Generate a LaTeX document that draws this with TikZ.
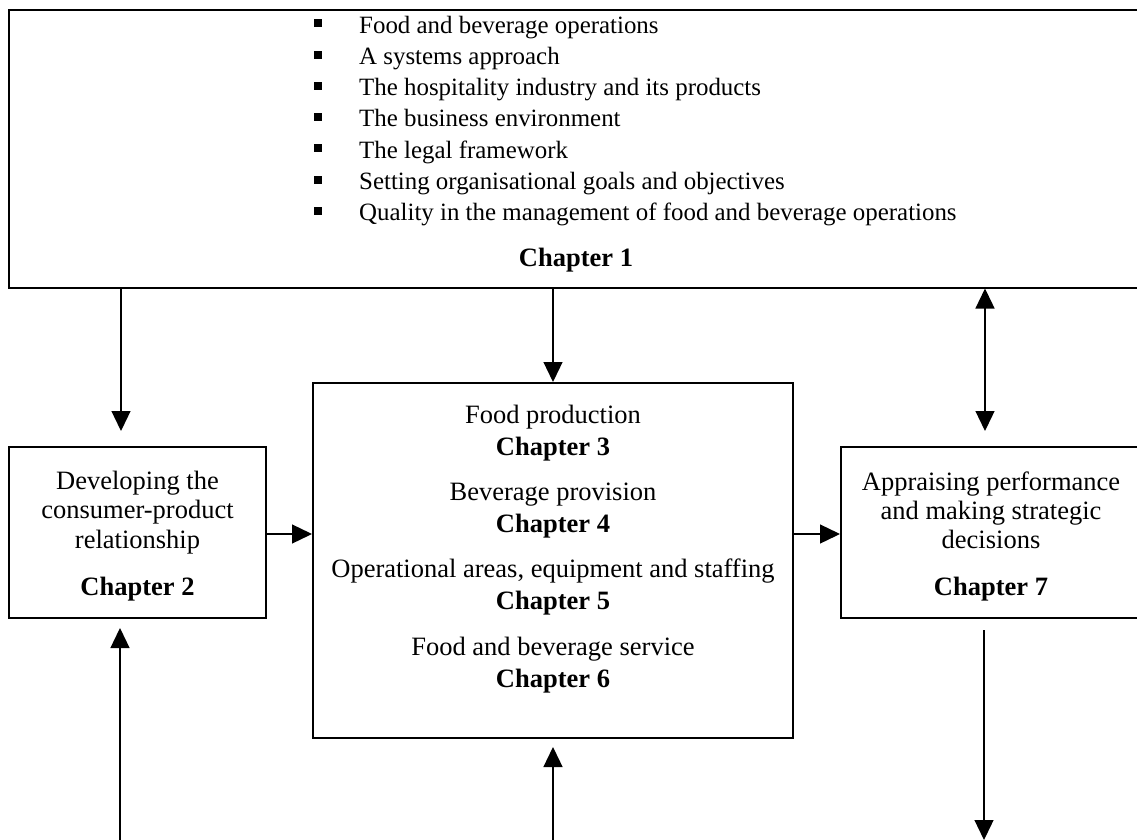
\documentclass[tikz,border=0pt]{standalone}
\usepackage{fontspec}
\setmainfont{Liberation Serif}
\usetikzlibrary{arrows.meta}
\tikzset{
  box/.style={draw, line width=2pt, inner sep=0pt},
  arr/.style={line width=1.3pt, -{Triangle[length=20pt,width=19pt]}},
  darr/.style={line width=1.3pt, {Triangle[length=20pt,width=19pt]}-{Triangle[length=20pt,width=19pt]}},
  txt/.style={anchor=base, inner sep=0pt, font=\fontsize{26.5}{32}\selectfont},
  btxt/.style={txt, font=\fontsize{26.5}{32}\selectfont\bfseries},
  ltxt/.style={anchor=base west, inner sep=0pt, font=\fontsize{24.9}{31}\selectfont},
  bullet/.style={fill=black, inner sep=0pt, minimum width=8pt, minimum height=8pt}
}
\begin{document}
\begin{tikzpicture}[x=1pt,y=-1pt]
\useasboundingbox (0,0) rectangle (1137,840);
% boxes
\node[box, minimum width=1141pt, minimum height=277.5pt] (c1) at (579.5,148.75) {};
\node[box, minimum width=257pt, minimum height=171pt] (ch2) at (137.5,532.5) {};
\node[box, minimum width=480pt, minimum height=355pt] (mid) at (553,560.5) {};
\node[box, minimum width=309pt, minimum height=171pt] (ch7) at (995.5,532.5) {};
% chapter 1 list
\foreach \t [count=\i from 0] in {Food and beverage operations, A systems approach, The hospitality industry and its products, The business environment, The legal framework, Setting organisational goals and objectives, Quality in the management of food and beverage operations}{
  \node[bullet] (b\i) at (317.5,23.5+31.2*\i) {};
  \node[ltxt] (l\i) at (359,33.3+31.2*\i) {\t};
}
\node[btxt] (t1) at (576,266.5) {Chapter 1};
% chapter 2
\node[txt] (t2a) at (137.5,489) {Developing the};
\node[txt] (t2b) at (137.5,518.5) {consumer-product};
\node[txt] (t2c) at (137.5,548) {relationship};
\node[btxt] (t2d) at (137.5,595) {Chapter 2};
% middle
\node[txt] (m1) at (553,423) {Food production};
\node[btxt] (m2) at (553,455) {Chapter 3};
\node[txt] (m3) at (553,500) {Beverage provision};
\node[btxt] (m4) at (553,532) {Chapter 4};
\node[txt] (m5) at (553,577) {Operational areas, equipment and staffing};
\node[btxt] (m6) at (553,609) {Chapter 5};
\node[txt] (m7) at (553,655) {Food and beverage service};
\node[btxt] (m8) at (553,687) {Chapter 6};
% chapter 7
\node[txt] (t7a) at (991,490) {Appraising performance};
\node[txt] (t7b) at (991,519.5) {and making strategic};
\node[txt] (t7c) at (991,548) {decisions};
\node[btxt] (t7d) at (991,595) {Chapter 7};
% helper coordinates
\coordinate (xl) at (121,0);
\coordinate (xbl) at (120,840);
\coordinate (xm) at (553,0);
\coordinate (xbm) at (553,840);
\coordinate (xr) at (985,0);
\coordinate (xbr) at (984,840);
\coordinate (hy) at (0,534);
% connectors
\draw[arr, shorten >=15pt] (xl |- c1.south) -- (xl |- ch2.north);
\draw[arr] (xm |- c1.south) -- (xm |- mid.north);
\draw[darr, shorten >=15pt] (xr |- c1.south) -- (xr |- ch7.north);
\draw[arr] (ch2.east |- hy) -- (mid.west |- hy);
\draw[arr] (mid.east |- hy) -- (ch7.west |- hy);
\draw[arr, shorten >=9pt] (xbl) -- (xbl |- ch2.south);
\draw[arr, shorten >=8pt] (xbm) -- (xbm |- mid.south);
\draw[arr, shorten <=11pt] (xbr |- ch7.south) -- (xbr);
\end{tikzpicture}
\end{document}
